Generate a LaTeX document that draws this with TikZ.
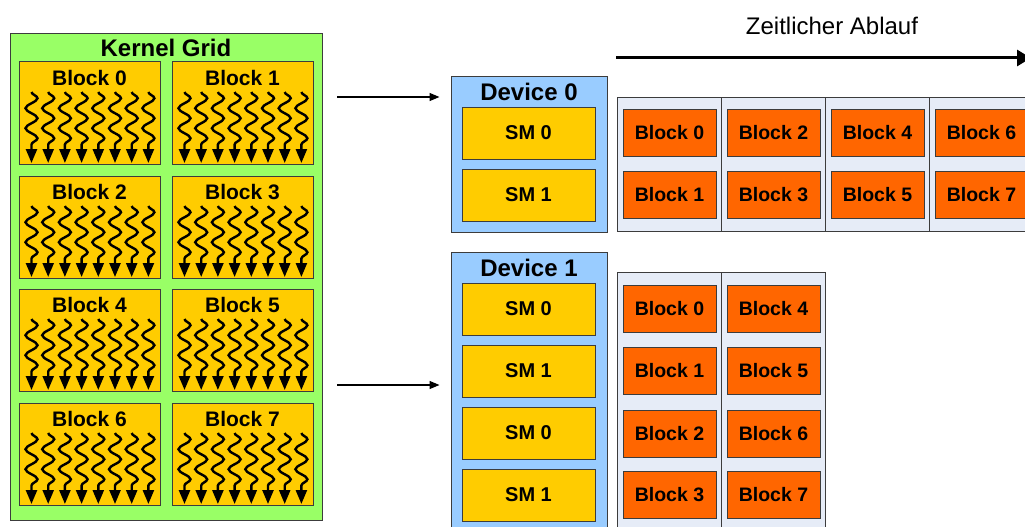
\documentclass[tikz,border=0pt]{standalone}
\usepackage{fontspec}
\setmainfont{Liberation Sans}
\usepackage{tikz}
\usetikzlibrary{arrows.meta,%
                decorations.pathmorphing,%
                positioning}

\definecolor{gridgreen}{RGB}{153,255,102}
\definecolor{smyellow}{RGB}{255,204,0}
\definecolor{devblue}{RGB}{153,204,255}
\definecolor{slotgray}{RGB}{230,236,247}
\definecolor{blkorange}{RGB}{255,102,0}
\definecolor{edgegray}{RGB}{60,60,60}

\begin{document}
\begin{tikzpicture}[x=1pt,y=-1pt]
		\tikzstyle{Box}=[draw=edgegray,line width=1pt,inner sep=0pt]
		\tikzstyle{GridStyle}=[Box,fill=gridgreen,minimum width=312pt,minimum height=486pt]
		\tikzstyle{BlockStyle}=[Box,fill=smyellow,minimum width=141pt,minimum height=102pt]
		\tikzstyle{DeviceStyle}=[Box,fill=devblue,minimum width=156pt]
		\tikzstyle{SMStyle}=[Box,fill=smyellow,minimum width=133pt,minimum height=52pt,font=\fontsize{20}{24}\selectfont\bfseries]
		\tikzstyle{SlotStyle}=[Box,fill=slotgray,minimum width=104pt]
		\tikzstyle{RunStyle}=[Box,fill=blkorange,minimum width=93pt,minimum height=47pt,font=\fontsize{19.5}{23}\selectfont\bfseries]
		\tikzstyle{TitleStyle}=[inner sep=0pt,font=\fontsize{24}{28}\selectfont\bfseries]
		\tikzstyle{LabelStyle}=[inner sep=0pt,font=\fontsize{21}{25}\selectfont\bfseries]
		\tikzstyle{Thread}=[line width=2.4pt,decorate,
			decoration={snake,amplitude=6pt,segment length=20pt,post length=14pt},
			-{Triangle[width=11pt,length=14pt]}]
		\tikzstyle{Feed}=[line width=1.3pt,-{Triangle[width=8pt,length=10pt]},shorten >=11pt]
		\tikzstyle{Time}=[line width=3pt,-{Triangle[width=16pt,length=14pt]}]

		\useasboundingbox (0,0) rectangle (1025,527);
		\clip (0,0) rectangle (1025,527);

		% kernel grid
		\node[GridStyle] (grid) at (166,277) {};
		\node[TitleStyle] (grid-lbl) at (166,48) {Kernel Grid};
		\foreach \row/\yc in {0/113,1/227,2/340,3/454} {
			\foreach \col/\xc in {0/89.5,1/242.5} {
				\pgfmathtruncatemacro{\n}{2*\row+\col}
				\node[BlockStyle] (blk\n) at (\xc,\yc) {};
				\node[LabelStyle] (blk\n-lbl) at ([yshift=35pt]blk\n.center) {Block \n};
				\foreach \t in {0,...,7}
					\draw[Thread] ([xshift=-58pt+\t*16.7pt,yshift=21pt]blk\n.center)
						-- ([xshift=-58pt+\t*16.7pt,yshift=-50pt]blk\n.center);
			}
		}

		% device 0
		\node[DeviceStyle,minimum height=156pt] (dev0) at (529,154) {};
		\node[TitleStyle] (dev0-lbl) at (529,92) {Device 0};
		\node[SMStyle] (dev0-sm0) at (528.5,133) {SM 0};
		\node[SMStyle] (dev0-sm1) at (528.5,195) {SM 1};

		% device 1
		\node[DeviceStyle,minimum height=300pt] (dev1) at (529,402) {};
		\node[TitleStyle] (dev1-lbl) at (529,268) {Device 1};
		\foreach \i/\yc/\s in {0/309/0,1/371/1,2/433/0,3/495/1}
			\node[SMStyle] (dev1-sm\i) at (528.5,\yc) {SM \s};

		% schedule on device 0
		\foreach \k in {0,...,3} {
			\pgfmathsetmacro{\xc}{669.5+104*\k}
			\pgfmathtruncatemacro{\a}{2*\k}
			\pgfmathtruncatemacro{\b}{2*\k+1}
			\node[SlotStyle,minimum height=134pt] (slot0-\k) at (\xc,164) {};
			\node[RunStyle] (run0-\a) at (\xc,132.5) {Block \a};
			\node[RunStyle] (run0-\b) at (\xc,195) {Block \b};
		}

		% schedule on device 1
		\foreach \k in {0,1} {
			\pgfmathsetmacro{\xc}{669.5+104*\k}
			\node[SlotStyle,minimum height=300pt] (slot1-\k) at (\xc,422) {};
			\foreach \r/\yc in {0/309,1/371,2/433.5,3/495} {
				\pgfmathtruncatemacro{\n}{4*\k+\r}
				\node[RunStyle] (run1-\n) at (\xc,\yc) {Block \n};
			}
		}

		% grid to devices
		\coordinate (feed0) at (337,97);
		\coordinate (feed1) at (337,385);
		\draw[Feed] (feed0) -- (feed0 -| dev0.west);
		\draw[Feed] (feed1) -- (feed1 -| dev1.west);

		% time axis
		\coordinate (time0) at (616,58);
		\coordinate (time1) at (1031,58);
		\draw[Time] (time0) -- (time1);
		\node[inner sep=0pt,font=\fontsize{24}{28}\selectfont] (time-lbl) at (832,26) {Zeitlicher Ablauf};
	\end{tikzpicture}
\end{document}
